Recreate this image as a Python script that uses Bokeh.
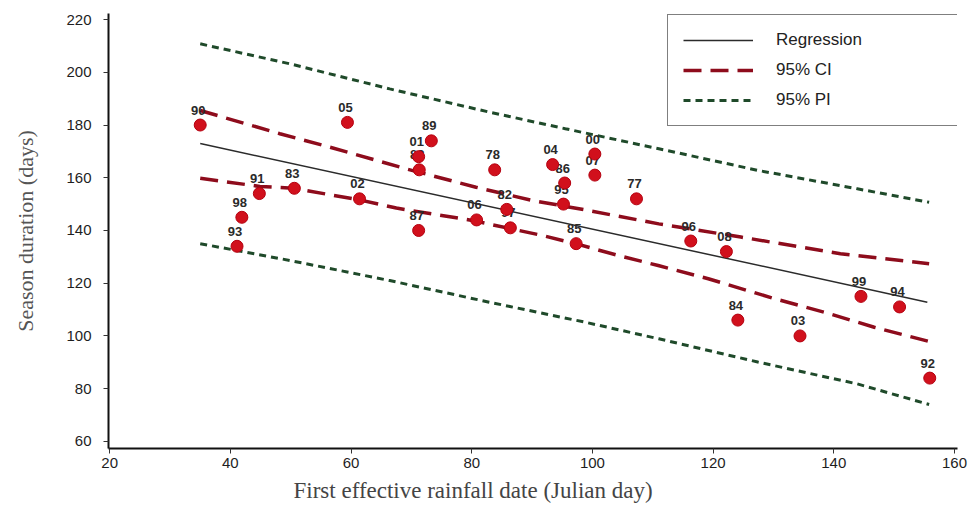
from bokeh.plotting import figure
from bokeh.models import (ColumnDataSource, Range1d, FixedTicker, Legend,
                          LegendItem, Title)
from bokeh.embed import file_html
from bokeh.resources import INLINE
from bokeh.core.properties import value

# Season data: first effective rainfall date (Julian day) vs season duration (days)
years = ["90", "05", "89", "01", "88", "91", "83", "02", "87", "98", "93",
         "78", "04", "00", "07", "86", "95", "77", "82", "06", "97", "85",
         "96", "08", "99", "94", "84", "03", "92"]
onset_day = [35.0, 59.4, 73.3, 71.2, 71.3, 44.8, 50.6, 61.4, 71.2, 41.9, 41.1,
             83.8, 93.4, 100.4, 100.4, 95.4, 95.2, 107.3, 85.8, 80.8, 86.4, 97.3,
             116.3, 122.2, 144.5, 150.9, 124.1, 134.4, 155.9]
duration = [180, 181, 174, 168, 163, 154, 156, 152, 140, 145, 134,
            163, 165, 169, 161, 158, 150, 152, 148, 144, 141, 135,
            136, 132, 115, 111, 106, 100, 84]

# Fitted regression line
reg_x = [35.0, 155.5]
reg_y = [173.0, 112.8]

# 95% confidence band
ci_up_x = [35.0, 48.2, 56.5, 69.1, 80.7, 90.0, 98.8, 111.0, 124.6, 141.1, 155.8]
ci_up_y = [185.5, 176.7, 171.6, 163.4, 156.4, 151.4, 147.8, 142.5, 137.5, 131.2, 127.4]
ci_lo_x = [35.0, 44.9, 50.4, 61.4, 67.5, 80.1, 91.7, 97.2, 104.3, 110.9, 119.2,
           130.2, 138.4, 146.7, 155.8]
ci_lo_y = [159.8, 156.7, 156.0, 151.6, 148.5, 143.8, 138.1, 135.0, 130.5, 126.7,
           121.7, 114.1, 109.0, 103.3, 97.9]

# 95% prediction band
pi_up_x = [35.0, 49.9, 66.4, 82.9, 95.5, 111.0, 127.4, 143.9, 155.8]
pi_up_y = [210.8, 203.2, 193.7, 184.9, 178.6, 171.0, 162.8, 155.8, 150.7]
pi_lo_x = [35.0, 49.9, 66.4, 82.9, 98.8, 111.0, 127.4, 143.9, 155.8]
pi_lo_y = [135.0, 128.6, 121.0, 112.8, 105.2, 98.9, 90.1, 81.8, 74.0]

x_ticks = [20, 40, 60, 80, 100, 120, 140, 160]
y_ticks = [60, 80, 100, 120, 140, 160, 180, 200, 220]

p = figure(width=970, height=518, output_backend="svg", toolbar_location=None,
           x_range=Range1d(19.8, 160.5), y_range=Range1d(57.3, 222.3),
           min_border_left=108, min_border_right=13, min_border_top=13,
           min_border_bottom=70)
p.xgrid.visible = False
p.ygrid.visible = False
p.outline_line_color = None
p.background_fill_color = "white"
p.border_fill_color = "white"

pi_color = "#1f4a2a"
ci_color = "#8e0c1c"

pi_r = p.line(pi_up_x, pi_up_y, line_color=pi_color, line_width=3, line_dash="7 5")
p.line(pi_lo_x, pi_lo_y, line_color=pi_color, line_width=3, line_dash="7 5")
ci_r = p.line(ci_up_x, ci_up_y, line_color=ci_color, line_width=3.5, line_dash="18 9")
p.line(ci_lo_x, ci_lo_y, line_color=ci_color, line_width=3.5, line_dash="18 9")
reg_r = p.line(reg_x, reg_y, line_color="#2b2b2b", line_width=1.5)

src = ColumnDataSource(dict(x=onset_day, y=duration, yr=years))
p.text(x="x", y="y", text="yr", source=src, x_offset=-2, y_offset=-15,
       text_align="center", text_baseline="middle",
       text_font=value("Liberation Sans"), text_font_style="bold",
       text_font_size="13px", text_color="#2a2a2a")
p.scatter(x="x", y="y", source=src, marker="circle", size=12,
          fill_color="#d1101c", line_color="#b5000f", line_width=1)

# Axes
for ax in (p.xaxis[0], p.yaxis[0]):
    ax.axis_line_width = 2
    ax.axis_line_color = "#111111"
    ax.major_tick_in = 0
    ax.major_tick_out = 5
    ax.major_tick_line_color = "#333333"
    ax.minor_tick_line_color = None
    ax.major_label_text_font = "Liberation Sans"
    ax.major_label_text_font_size = "15px"
    ax.major_label_text_color = "#1e1e1e"

p.xaxis.ticker = FixedTicker(ticks=x_ticks)
p.yaxis.ticker = FixedTicker(ticks=y_ticks)
p.xaxis.major_label_standoff = 4
p.yaxis.major_label_standoff = 12

p.yaxis.axis_label = "Season duration (days)"
p.yaxis.axis_label_text_font = "Liberation Serif"
p.yaxis.axis_label_text_font_style = "normal"
p.yaxis.axis_label_text_font_size = "22px"
p.yaxis.axis_label_text_color = "#555555"
p.yaxis.axis_label_standoff = 25

p.add_layout(Title(text="First effective rainfall date  (Julian day)",
                   align="left", offset=185, text_font="Liberation Serif",
                   text_font_style="normal", text_font_size="23px",
                   text_color="#444444", standoff=10), "below")

legend = Legend(items=[LegendItem(label="Regression", renderers=[reg_r]),
                       LegendItem(label="95% CI", renderers=[ci_r]),
                       LegendItem(label="95% PI", renderers=[pi_r])],
                location=(559, 322))
legend.border_line_color = "black"
legend.border_line_width = 1.5
legend.background_fill_alpha = 1
legend.glyph_width = 70
legend.glyph_height = 20
legend.label_height = 20
legend.label_standoff = 23
legend.label_width = 168
legend.padding = 15
legend.spacing = 10
legend.margin = 0
legend.label_text_font = "Liberation Sans"
legend.label_text_font_size = "17px"
legend.label_text_color = "#222222"
p.add_layout(legend)

open("out.html", "w").write(file_html(p, INLINE))
